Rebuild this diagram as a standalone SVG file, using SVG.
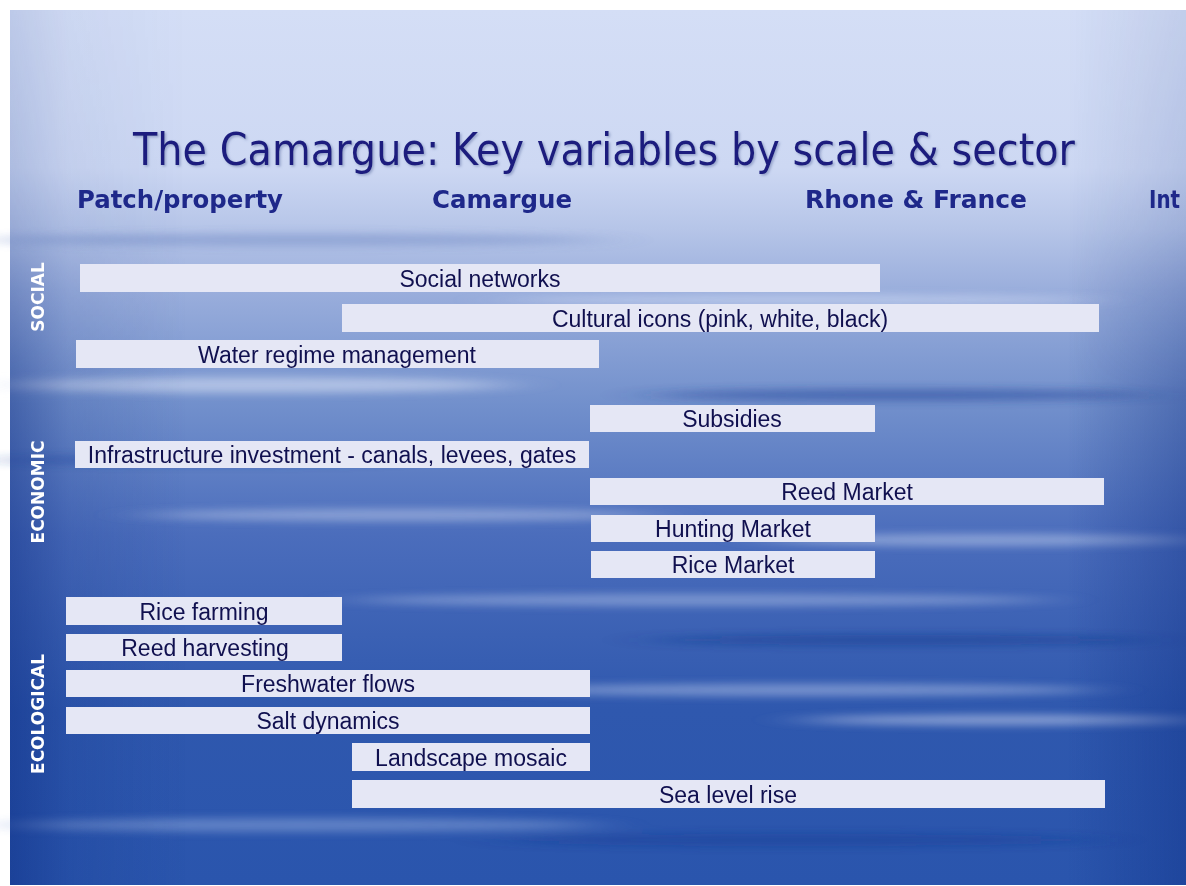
<svg xmlns="http://www.w3.org/2000/svg" width="1186" height="886" viewBox="0 0 1186 886">
<defs>
<linearGradient id="bg" x1="0" y1="0" x2="0" y2="1">
<stop offset="0" stop-color="#d4def6"/>
<stop offset="0.18" stop-color="#cdd8f3"/>
<stop offset="0.25" stop-color="#b6c5e8"/>
<stop offset="0.32" stop-color="#9aaedc"/>
<stop offset="0.45" stop-color="#7290cc"/>
<stop offset="0.6" stop-color="#4b6dbc"/>
<stop offset="0.8" stop-color="#2f58ae"/>
<stop offset="1" stop-color="#2a55ad"/>
</linearGradient>
<linearGradient id="side" x1="0" y1="0" x2="1" y2="0">
<stop offset="0" stop-color="#0a2a80" stop-opacity="0.45"/>
<stop offset="0.05" stop-color="#0a2a80" stop-opacity="0.15"/>
<stop offset="0.15" stop-color="#0a2a80" stop-opacity="0"/>
<stop offset="0.9" stop-color="#0a2a80" stop-opacity="0"/>
<stop offset="1" stop-color="#0a2a80" stop-opacity="0.35"/>
</linearGradient>
<linearGradient id="fadev" x1="0" y1="0" x2="0" y2="1">
<stop offset="0" stop-color="#ffffff" stop-opacity="0.25"/>
<stop offset="0.25" stop-color="#ffffff" stop-opacity="0.4"/>
<stop offset="0.45" stop-color="#ffffff" stop-opacity="1"/>
<stop offset="1" stop-color="#ffffff" stop-opacity="1"/>
</linearGradient>
<mask id="sidemask"><rect x="10" y="10" width="1176" height="875" fill="url(#fadev)"/></mask>
<filter id="streak" x="-20%" y="-200%" width="140%" height="500%">
<feGaussianBlur stdDeviation="30 4"/>
</filter>
<filter id="tshadow" x="-5%" y="-20%" width="110%" height="140%">
<feDropShadow dx="1.5" dy="1.5" stdDeviation="1" flood-color="#7080b0" flood-opacity="0.6"/>
</filter>
</defs>
<style>
.bar{fill:#e5e7f5;}
.lbl{font-family:"Liberation Sans",Arial,sans-serif;font-size:23px;fill:#10104f;text-anchor:middle;}
.hdr{font-family:"DejaVu Sans",Verdana,sans-serif;font-weight:bold;font-size:24px;fill:#1e288a;}
.sec{font-family:"DejaVu Sans",Verdana,sans-serif;font-weight:bold;font-size:17px;fill:#ffffff;text-anchor:middle;}
.title{font-family:"DejaVu Sans",Tahoma,sans-serif;font-size:44px;fill:#1a1a7e;}
</style>
<rect x="0" y="0" width="1186" height="886" fill="#ffffff"/>
<g id="background">
<rect x="10" y="10" width="1176" height="875" fill="url(#bg)"/>
<g filter="url(#streak)" opacity="0.9">
<ellipse cx="300" cy="240" rx="300" ry="6" fill="#8ea3d4"/>
<ellipse cx="800" cy="300" rx="300" ry="5" fill="#d6e0f6" opacity="0.6"/>
<ellipse cx="250" cy="385" rx="260" ry="8" fill="#dfe6f7" opacity="0.6"/>
<ellipse cx="900" cy="395" rx="250" ry="6" fill="#27489c" opacity="0.6"/>
<ellipse cx="400" cy="515" rx="260" ry="6" fill="#d0daf2" opacity="0.5"/>
<ellipse cx="980" cy="540" rx="220" ry="6" fill="#d6e0f6" opacity="0.5"/>
<ellipse cx="700" cy="600" rx="350" ry="6" fill="#9bb0de" opacity="0.7"/>
<ellipse cx="900" cy="640" rx="250" ry="5" fill="#163a90" opacity="0.6"/>
<ellipse cx="800" cy="690" rx="300" ry="6" fill="#b3c3e8" opacity="0.6"/>
<ellipse cx="1000" cy="720" rx="200" ry="5" fill="#d8e0f5" opacity="0.6"/>
<ellipse cx="300" cy="825" rx="300" ry="7" fill="#8ea6da" opacity="0.6"/>
<ellipse cx="800" cy="840" rx="300" ry="6" fill="#183c94" opacity="0.5"/>
<ellipse cx="200" cy="460" rx="200" ry="5" fill="#2a4ea6" opacity="0.6"/>
</g>
<rect x="10" y="10" width="1176" height="875" fill="url(#side)" mask="url(#sidemask)"/>
</g>
<g id="title">
<text class="title" x="604" y="165" text-anchor="middle" textLength="942" lengthAdjust="spacingAndGlyphs" filter="url(#tshadow)">The Camargue: Key variables by scale &amp; sector</text>
</g>
<g id="headers">
<text class="hdr" x="77" y="208" textLength="206" lengthAdjust="spacingAndGlyphs">Patch/property</text>
<text class="hdr" x="432" y="208" textLength="140" lengthAdjust="spacingAndGlyphs">Camargue</text>
<text class="hdr" x="805" y="208" textLength="222" lengthAdjust="spacingAndGlyphs">Rhone &amp; France</text>
<text class="hdr" x="1149" y="208" textLength="31" lengthAdjust="spacingAndGlyphs">Int</text>
</g>
<g id="sectors">
<text class="sec" transform="translate(44,297) rotate(-90)">SOCIAL</text>
<text class="sec" transform="translate(44,492) rotate(-90)">ECONOMIC</text>
<text class="sec" transform="translate(44,714) rotate(-90)">ECOLOGICAL</text>
</g>
<g id="social-networks"><rect class="bar" x="80" y="264" width="800" height="28"/><text class="lbl" x="480" y="287">Social networks</text></g>
<g id="cultural-icons"><rect class="bar" x="342" y="304" width="757" height="28"/><text class="lbl" x="720" y="327">Cultural icons (pink, white, black)</text></g>
<g id="water-regime"><rect class="bar" x="76" y="340" width="523" height="28"/><text class="lbl" x="337" y="363">Water regime management</text></g>
<g id="subsidies"><rect class="bar" x="590" y="405" width="285" height="27"/><text class="lbl" x="732" y="427">Subsidies</text></g>
<g id="infrastructure"><rect class="bar" x="75" y="441" width="514" height="27"/><text class="lbl" x="332" y="463">Infrastructure investment - canals, levees, gates</text></g>
<g id="reed-market"><rect class="bar" x="590" y="478" width="514" height="27"/><text class="lbl" x="847" y="500">Reed Market</text></g>
<g id="hunting-market"><rect class="bar" x="591" y="515" width="284" height="27"/><text class="lbl" x="733" y="537">Hunting Market</text></g>
<g id="rice-market"><rect class="bar" x="591" y="551" width="284" height="27"/><text class="lbl" x="733" y="573">Rice Market</text></g>
<g id="rice-farming"><rect class="bar" x="66" y="597" width="276" height="28"/><text class="lbl" x="204" y="620">Rice farming</text></g>
<g id="reed-harvesting"><rect class="bar" x="66" y="634" width="276" height="27"/><text class="lbl" x="205" y="656">Reed harvesting</text></g>
<g id="freshwater-flows"><rect class="bar" x="66" y="670" width="524" height="27"/><text class="lbl" x="328" y="692">Freshwater flows</text></g>
<g id="salt-dynamics"><rect class="bar" x="66" y="707" width="524" height="27"/><text class="lbl" x="328" y="729">Salt dynamics</text></g>
<g id="landscape-mosaic"><rect class="bar" x="352" y="743" width="238" height="28"/><text class="lbl" x="471" y="766">Landscape mosaic</text></g>
<g id="sea-level-rise"><rect class="bar" x="352" y="780" width="753" height="28"/><text class="lbl" x="728" y="803">Sea level rise</text></g>
</svg>
